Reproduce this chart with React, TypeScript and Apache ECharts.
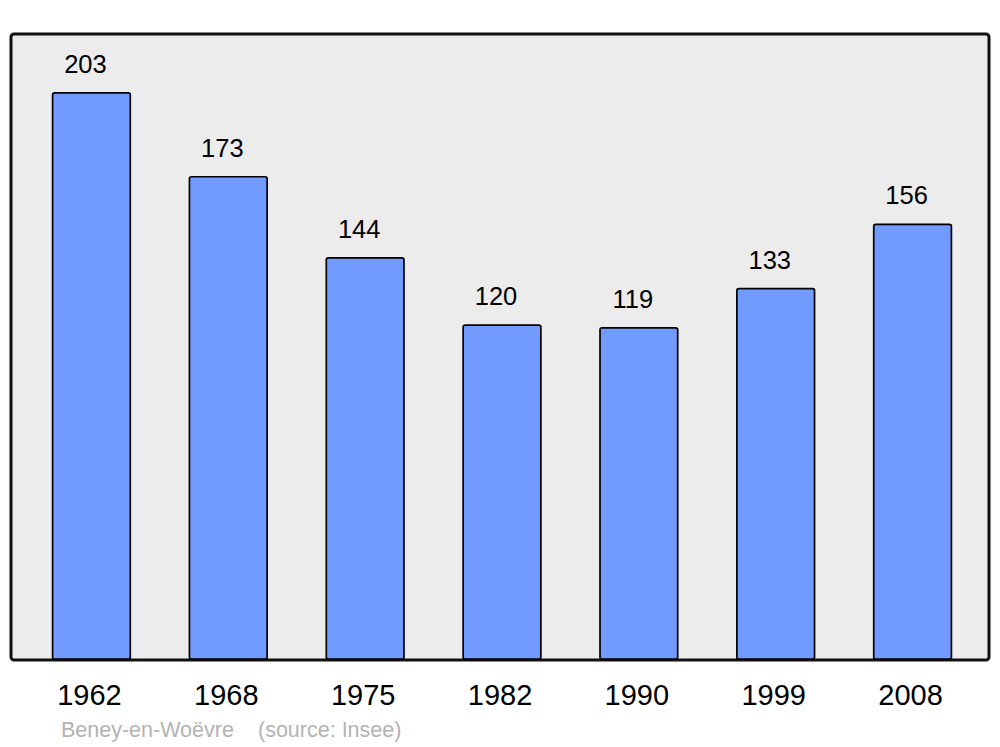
import React, { useEffect, useRef } from "react";
import * as echarts from "echarts";

const categories = ["1962", "1968", "1975", "1982", "1990", "1999", "2008"];
const population = [203, 173, 144, 120, 119, 133, 156];
const placeName = "Beney-en-Woëvre";
const sourceText = "(source: Insee)";

export default function App() {
  const ref = useRef<HTMLDivElement>(null);
  useEffect(() => {
    if (!ref.current) return;
    const chart = echarts.init(ref.current, undefined, { renderer: "svg" });
    chart.setOption({
      animation: false,
      backgroundColor: "#ffffff",
      textStyle: { fontFamily: "Liberation Sans, Arial, sans-serif" },
      grid: { left: 23, right: 19, top: 34, bottom: 87, containLabel: false },
      graphic: [
        {
          type: "rect",
          z: -10,
          shape: { x: 11, y: 34, width: 978, height: 626, r: 3 },
          style: { fill: "#ececec", stroke: "#111111", lineWidth: 3 },
        },
        {
          type: "text",
          left: 61,
          top: 719,
          style: {
            text: placeName,
            fill: "#b3b3b3",
            fontSize: 21.5,
            fontFamily: "Liberation Sans, Arial, sans-serif",
          },
        },
        {
          type: "text",
          left: 258,
          top: 719,
          style: {
            text: sourceText,
            fill: "#b3b3b3",
            fontSize: 21.5,
            fontFamily: "Liberation Sans, Arial, sans-serif",
          },
        },
      ],
      xAxis: {
        type: "category",
        data: categories,
        axisLine: { show: false },
        axisTick: { show: false },
        axisLabel: {
          color: "#000",
          fontSize: 29,
          margin: 20,
          padding: [0, 4, 0, 0],
          fontFamily: "Liberation Sans, Arial, sans-serif",
        },
      },
      yAxis: {
        type: "value",
        min: 0,
        max: 223.7,
        show: false,
        splitLine: { show: false },
      },
      series: [
        {
          type: "bar",
          data: population,
          barWidth: "58%",
          itemStyle: {
            color: "#729bff",
            borderColor: "#000",
            borderWidth: 1.7,
            borderRadius: 2,
          },
          label: {
            show: true,
            position: "top",
            distance: 15,
            offset: [-6, 0],
            color: "#000",
            fontSize: 25.5,
            fontFamily: "Liberation Sans, Arial, sans-serif",
          },
        },
      ],
    });
    return () => chart.dispose();
  }, []);
  return (
    <div
      ref={ref}
      style={{ position: "fixed", left: 0, top: 0, width: 1000, height: 747 }}
    />
  );
}
